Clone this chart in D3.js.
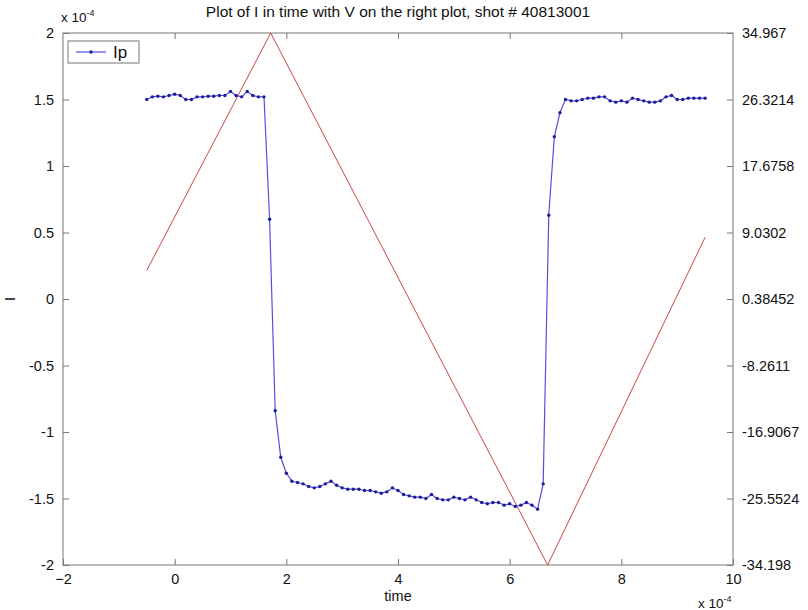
<!DOCTYPE html>
<html><head><meta charset="utf-8">
<script src="https://cdn.jsdelivr.net/npm/d3@7/dist/d3.min.js"></script>
<style>body{margin:0;background:#fff}svg{display:block}text{font-family:"Liberation Sans",Arial,sans-serif;fill:#111}</style>
</head><body><svg id="c" width="808" height="610"></svg>
<script>
const titleText = "Plot of I in time with V on the right plot, shot # 40813001";
// time in units of 1e-4 s
const times = [-0.5,-0.4,-0.3,-0.2,-0.1,0.0,0.1,0.2,0.3,0.4,0.5,0.6,0.7,0.8,0.9,1.0,1.1,1.2,1.3,1.4,1.5,1.6,1.7,1.8,1.9,
2.0,2.1,2.2,2.3,2.4,2.5,2.6,2.7,2.8,2.9,3.0,3.1,3.2,3.3,3.4,3.5,3.6,3.7,3.8,3.9,
4.0,4.1,4.2,4.3,4.4,4.5,4.6,4.7,4.8,4.9,5.0,5.1,5.2,5.3,5.4,5.5,5.6,5.7,5.8,5.9,
6.0,6.1,6.2,6.3,6.4,6.5,6.6,6.7,6.8,6.9,7.0,7.1,7.2,7.3,7.4,7.5,7.6,7.7,7.8,7.9,
8.0,8.1,8.2,8.3,8.4,8.5,8.6,8.7,8.8,8.9,9.0,9.1,9.2,9.3,9.4,9.5];
// Ip in units of 1e-4
const ip = [1.50,1.52,1.525,1.52,1.53,1.54,1.53,1.50,1.50,1.52,1.52,1.525,1.525,1.53,1.53,1.56,1.53,1.52,1.56,1.53,1.52,1.52,0.60,-0.84,-1.19,
-1.31,-1.37,-1.38,-1.39,-1.41,-1.42,-1.41,-1.39,-1.37,-1.40,-1.42,-1.43,-1.43,-1.43,-1.44,-1.44,-1.45,-1.46,-1.45,-1.42,
-1.44,-1.47,-1.48,-1.49,-1.49,-1.50,-1.47,-1.50,-1.51,-1.51,-1.49,-1.50,-1.51,-1.49,-1.51,-1.53,-1.54,-1.53,-1.53,-1.55,
-1.54,-1.56,-1.55,-1.53,-1.55,-1.58,-1.39,0.63,1.22,1.40,1.50,1.49,1.49,1.50,1.51,1.51,1.52,1.52,1.49,1.48,
1.49,1.48,1.51,1.50,1.49,1.48,1.48,1.49,1.52,1.53,1.50,1.50,1.51,1.51,1.51,1.51];
// V (right axis) triangle vertices
const vTimes = [-0.5, 1.72, 6.68, 9.5];
const vValues = [4.1, 34.967, -34.198, 8.4];
const xTicks = [-2,0,2,4,6,8,10];
const yTicks = [-2,-1.5,-1,-0.5,0,0.5,1,1.5,2];
const yTickLabels = ["-2","-1.5","-1","-0.5","0","0.5","1","1.5","2"];
const rTickLabels = ["-34.198","-25.5524","-16.9067","-8.2611","0.38452","9.0302","17.6758","26.3214","34.967"];
const legendLabel = "Ip";

const svg = d3.select("#c");
const L=63,R=733,T=33,B=565;
const x = d3.scaleLinear().domain([-2,10]).range([L,R]);
const y = d3.scaleLinear().domain([-2,2]).range([B,T]);
const yr = d3.scaleLinear().domain([-34.198,34.967]).range([B,T]);
const rTicks = rTickLabels.map(Number);
const axCol = "#777";

// frame
svg.append("rect").attr("x",L).attr("y",T).attr("width",R-L).attr("height",B-T)
  .attr("fill","none").attr("stroke",axCol).attr("stroke-width",1);

function styleAxis(g){g.select(".domain").remove();g.selectAll("line").attr("stroke",axCol);
  g.selectAll("text").attr("font-size","14.5px").attr("fill","#111");}
// bottom
svg.append("g").attr("transform",`translate(0,${B})`)
  .call(d3.axisBottom(x).tickValues(xTicks).tickFormat(d3.format("d")).tickSizeInner(-6).tickPadding(9))
  .call(styleAxis);
// top ticks
svg.append("g").attr("transform",`translate(0,${T})`)
  .call(d3.axisTop(x).tickValues(xTicks.slice(1,-1)).tickFormat("").tickSizeInner(-6))
  .call(styleAxis);
// left
svg.append("g").attr("transform",`translate(${L},0)`)
  .call(d3.axisLeft(y).tickValues(yTicks).tickFormat((d,i)=>yTickLabels[i]).tickSizeInner(-6).tickPadding(9))
  .call(styleAxis);
// right
svg.append("g").attr("transform",`translate(${R},0)`)
  .call(d3.axisRight(yr).tickValues(rTicks).tickFormat((d,i)=>rTickLabels[i]).tickSizeInner(-6).tickPadding(9))
  .call(styleAxis);

// V line
svg.append("path").datum(vTimes.map((t,i)=>[t,vValues[i]]))
  .attr("d",d3.line().x(d=>x(d[0])).y(d=>yr(d[1])))
  .attr("fill","none").attr("stroke","#c84848").attr("stroke-width",1);

// Ip line
const ipData = times.map((t,i)=>[t,ip[i]]);
svg.append("path").datum(ipData)
  .attr("d",d3.line().x(d=>x(d[0])).y(d=>y(d[1])))
  .attr("fill","none").attr("stroke","#5050e0").attr("stroke-width",1.2);
svg.append("g").selectAll("circle").data(ipData).join("circle")
  .attr("cx",d=>x(d[0])).attr("cy",d=>y(d[1])).attr("r",1.7).attr("fill","#1c1c96");

// legend
const lg = svg.append("g");
lg.append("rect").attr("x",68).attr("y",41).attr("width",71).attr("height",22)
  .attr("fill","#fff").attr("stroke",axCol);
lg.append("line").attr("x1",76).attr("x2",106).attr("y1",52).attr("y2",52).attr("stroke","#5050e0").attr("stroke-width",1.2);
lg.append("circle").attr("cx",91).attr("cy",52).attr("r",1.7).attr("fill","#1c1c96");
lg.append("text").attr("x",113).attr("y",58).attr("font-size","17px").text(legendLabel);

// title & labels
svg.append("text").attr("x",(L+R)/2).attr("y",17).attr("text-anchor","middle").attr("font-size","15.5px").text(titleText);
svg.append("text").attr("x",(L+R)/2).attr("y",601).attr("text-anchor","middle").attr("font-size","14.5px").text("time");
svg.append("text").attr("x",15).attr("y",299).attr("text-anchor","middle").attr("font-size","14.5px")
  .attr("transform","rotate(-90,15,299)").text("I");
function expLabel(xp,yp){const t=svg.append("text").attr("x",xp).attr("y",yp).attr("font-size","13.5px");
  t.append("tspan").text("x 10");t.append("tspan").attr("dy",-6).attr("font-size","9px").text("-4");}
expLabel(61,22);
expLabel(698,608);
</script></body></html>
